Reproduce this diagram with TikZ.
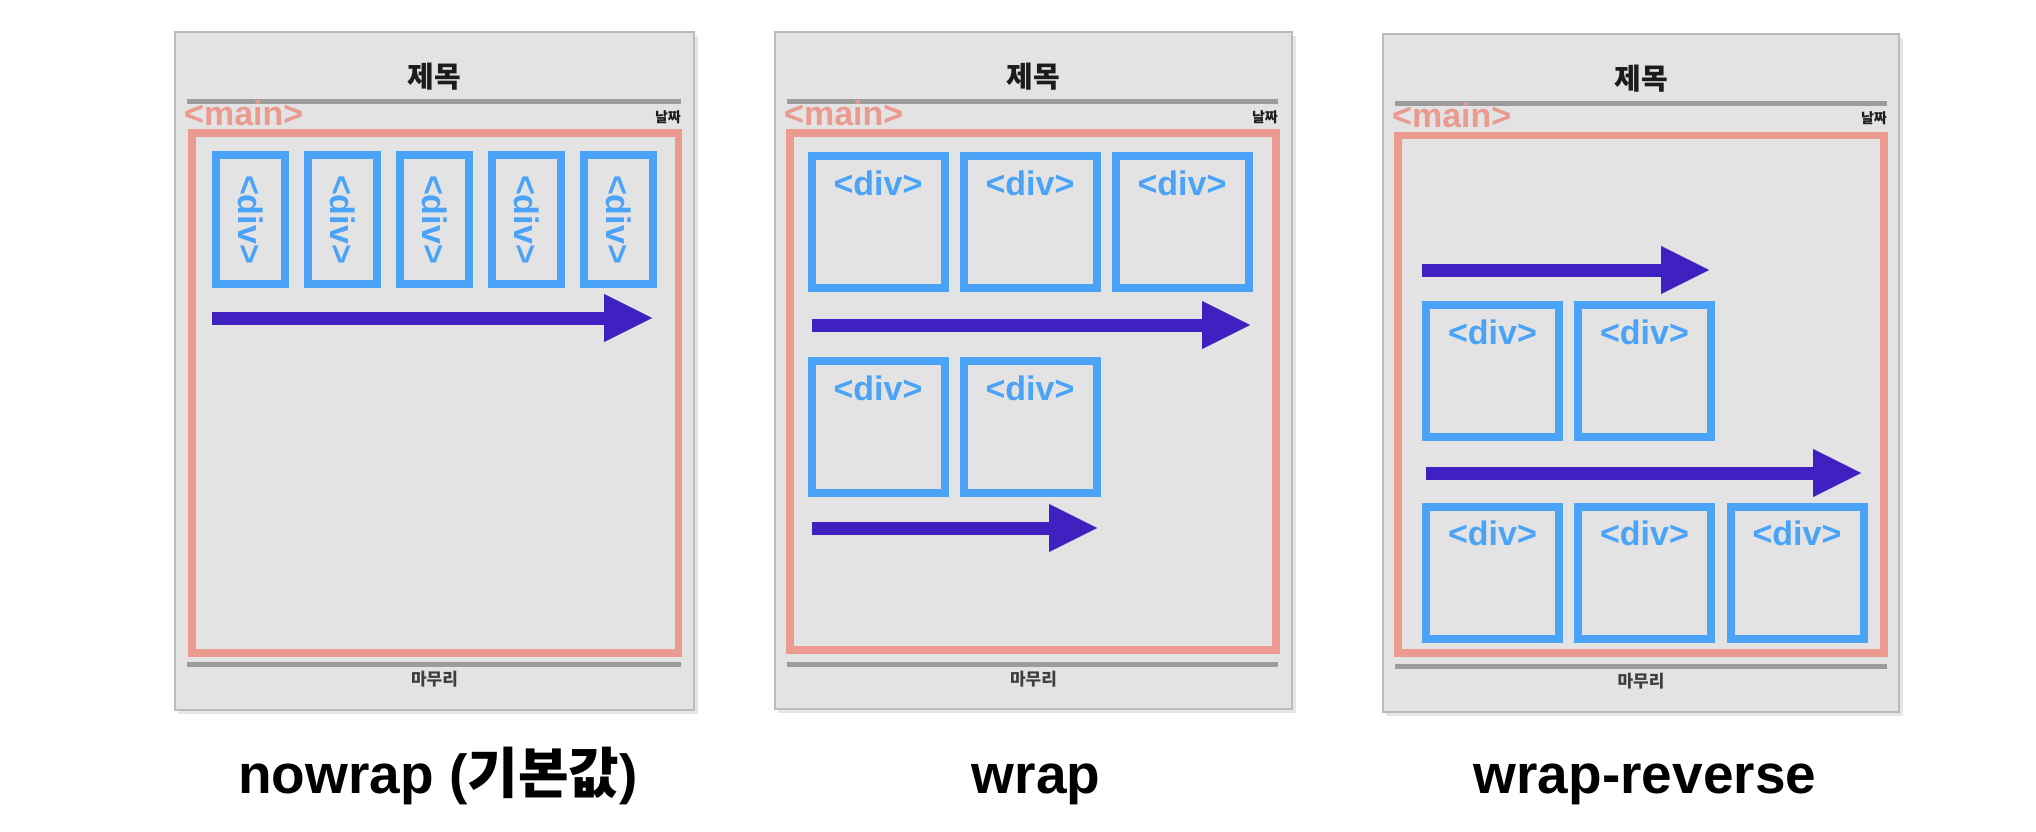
\documentclass[tikz,border=0pt]{standalone}
\usepackage{fontspec}
\setmainfont{Liberation Sans}
\newfontfamily\kr{Noto Sans CJK KR}
\usetikzlibrary{arrows.meta}
\definecolor{panelbg}{HTML}{E3E3E3}
\definecolor{panelborder}{HTML}{BBBBBB}
\definecolor{sepgray}{HTML}{9C9C9C}
\definecolor{pinkc}{HTML}{EA9A8F}
\definecolor{bluec}{HTML}{4BA3F7}
\definecolor{arrowc}{HTML}{3F20C0}
\definecolor{darktext}{HTML}{1C1C1C}
\begin{document}
\begin{tikzpicture}[x=1pt,y=-1pt,
  panel/.style={fill=panelbg, draw=panelborder, line width=2pt},
  shadowrect/.style={fill=black, opacity=0.10},
  sepline/.style={draw=sepgray, line width=5pt},
  mainrect/.style={draw=pinkc, line width=7.5pt},
  divh/.style={draw=bluec, line width=8pt, minimum width=133pt, inner sep=0pt,
    text height=39pt, text depth=93pt, text=bluec,
    font=\fontsize{34}{34}\selectfont\bfseries},
  divv/.style={draw=bluec, line width=8pt, minimum width=129pt, minimum height=69pt,
    inner sep=0pt, rotate=-90, text=bluec,
    font=\fontsize{34}{34}\selectfont\bfseries},
  mainlbl/.style={text=pinkc, anchor=base west, inner sep=0pt,
    font=\fontsize{34}{34}\selectfont\bfseries},
  datelbl/.style={text=darktext, anchor=base east, inner sep=0pt,
    font=\kr\bfseries\fontsize{14}{14}\selectfont},
  titlelbl/.style={text=darktext, inner sep=0pt,
    font=\kr\bfseries\fontsize{29}{29}\selectfont},
  footlbl/.style={text=darktext!85, inner sep=0pt,
    font=\kr\bfseries\fontsize{17}{17}\selectfont},
  caption/.style={text=black, anchor=base, inner sep=0pt,
    font=\fontsize{55}{55}\selectfont\bfseries},
  flow/.style={draw=arrowc, line width=13pt,
    -{Triangle[length=48pt,width=48pt,line width=0.1pt]}}
]
\useasboundingbox[fill=white] (0,0) rectangle (2036,832);

% ---------------- Panel 1 : nowrap ----------------
\fill[shadowrect] (178,36) rectangle (698,714);
\draw[panel] (175,32) rectangle (694,710);
\draw[sepline] (187,102) -- (681,102);
\draw[sepline] (187,664) -- (681,664);
\node[titlelbl] (t1) at (434.5,77) {제목};
\node[mainlbl] (m1lbl) at (184,126) {<main>};
\node[datelbl] (d1lbl) at (681,122) {날짜};
\draw[mainrect] (192,133) rectangle (678.5,653);
\node[divv] (p1d1) at (250.5,219.5) {<div>};
\node[divv] (p1d2) at (342.5,219.5) {<div>};
\node[divv] (p1d3) at (434.5,219.5) {<div>};
\node[divv] (p1d4) at (526.5,219.5) {<div>};
\node[divv] (p1d5) at (618.5,219.5) {<div>};
\coordinate (p1a1s) at (212,318);
\coordinate (p1a1e) at (652,318);
\draw[flow] (p1a1s) -- (p1a1e);
\node[footlbl] (f1) at (434.5,679) {마무리};
\node[caption] (c1) at (438,793) {nowrap ({\kr\bfseries 기본값})};

% ---------------- Panel 2 : wrap ----------------
\fill[shadowrect] (778,36) rectangle (1296,713);
\draw[panel] (775,32) rectangle (1292,709);
\draw[sepline] (787,102) -- (1278,102);
\draw[sepline] (787,664) -- (1278,664);
\node[titlelbl] (t2) at (1033.5,77) {제목};
\node[mainlbl] (m2lbl) at (784,126) {<main>};
\node[datelbl] (d2lbl) at (1278,122) {날짜};
\draw[mainrect] (790,133) rectangle (1276,650);
\node[divh] (p2d1) at (878,222) {<div>};
\node[divh] (p2d2) at (1030,222) {<div>};
\node[divh] (p2d3) at (1182,222) {<div>};
\node[divh] (p2d4) at (878,427) {<div>};
\node[divh] (p2d5) at (1030,427) {<div>};
\coordinate (p2a1s) at (812,325);
\coordinate (p2a1e) at (1250,325);
\draw[flow] (p2a1s) -- (p2a1e);
\coordinate (p2a2s) at (812,528);
\coordinate (p2a2e) at (1097,528);
\draw[flow] (p2a2s) -- (p2a2e);
\node[footlbl] (f2) at (1033.5,679) {마무리};
\node[caption] (c2) at (1036,793) {wrap};

% ---------------- Panel 3 : wrap-reverse ----------------
\fill[shadowrect] (1386,38) rectangle (1903,716);
\draw[panel] (1383,34) rectangle (1899,712);
\draw[sepline] (1395,104) -- (1887,104);
\draw[sepline] (1395,666) -- (1887,666);
\node[titlelbl] (t3) at (1641,79) {제목};
\node[mainlbl] (m3lbl) at (1392,128) {<main>};
\node[datelbl] (d3lbl) at (1887,124) {날짜};
\draw[mainrect] (1398,135.5) rectangle (1884,653);
\node[divh] (p3d1) at (1492.5,371) {<div>};
\node[divh] (p3d2) at (1644.5,371) {<div>};
\node[divh] (p3d3) at (1492.5,572.5) {<div>};
\node[divh] (p3d4) at (1644.5,572.5) {<div>};
\node[divh] (p3d5) at (1797,572.5) {<div>};
\coordinate (p3a1s) at (1422,270);
\coordinate (p3a1e) at (1709,270);
\draw[flow] (p3a1s) -- (p3a1e);
\coordinate (p3a2s) at (1426,473);
\coordinate (p3a2e) at (1861,473);
\draw[flow] (p3a2s) -- (p3a2e);
\node[footlbl] (f3) at (1641,681) {마무리};
\node[caption] (c3) at (1645,793) {wrap-reverse};
\end{tikzpicture}
\end{document}
